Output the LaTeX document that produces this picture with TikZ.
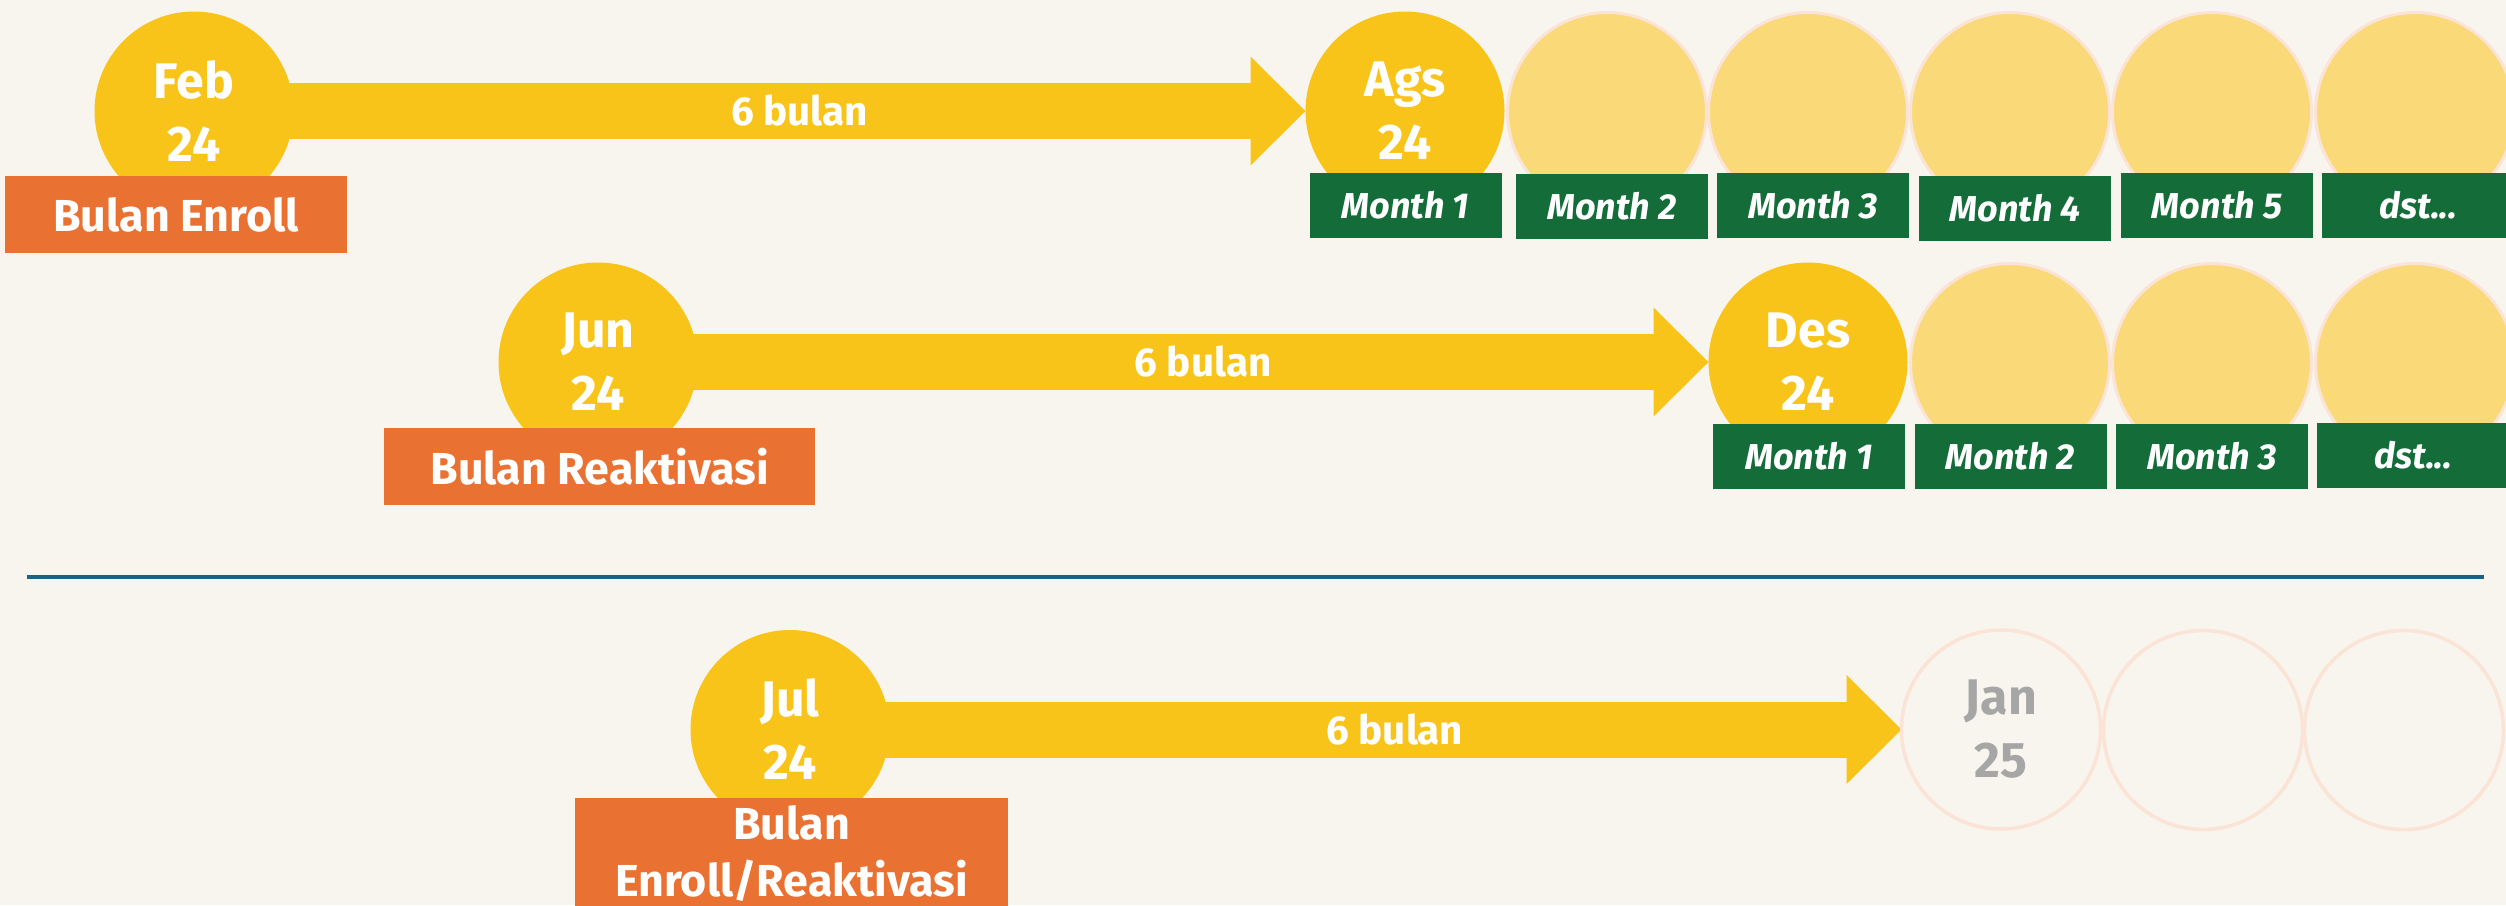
\documentclass[tikz,border=0pt]{standalone}
\usepackage{fontspec}
\setmainfont{Fira Sans}[Ligatures=NoCommon]
\usepackage{xcolor}
\usetikzlibrary{arrows.meta}

\definecolor{bgcream}{HTML}{F8F5EE}
\definecolor{sunyellow}{HTML}{F9C41A}
\definecolor{paleyellow}{HTML}{FAD978}
\definecolor{palepink}{HTML}{FBE3D6}
\definecolor{rustorange}{HTML}{E97132}
\definecolor{leafgreen}{HTML}{146C38}
\definecolor{lineblue}{HTML}{1B6185}
\definecolor{dimgray}{HTML}{A6A6A6}

\newcommand{\etc}{dst{.}{.}{.}}

\begin{document}
\begin{tikzpicture}[x=0.5pt, y=-0.5pt,
  monthdot/.style={circle, fill=sunyellow, minimum size=99.5pt, inner sep=0pt,
    text=white, align=center, font=\fontsize{25}{31.5}\selectfont\bfseries},
  faded/.style={circle, fill=paleyellow, draw=palepink, line width=1.5pt,
    minimum size=99.5pt, inner sep=0pt},
  ghost/.style={circle, draw=palepink, line width=1.75pt, minimum size=99.5pt,
    inner sep=0pt, text=dimgray, align=center,
    font=\fontsize{25}{31.5}\selectfont\bfseries},
  spanarrow/.style={draw=sunyellow, line width=28pt,
    -{Triangle[width=54.5pt, length=27.5pt, line width=0pt]}},
  spanlabel/.style={text=white, font=\fontsize{20.2}{24}\selectfont\bfseries},
  enrollbox/.style={fill=rustorange, text=white, align=center, inner sep=0pt,
    font=\fontsize{22.4}{28.5}\selectfont\bfseries},
  monthbox/.style={fill=leafgreen, text=white, minimum width=96pt,
    minimum height=32.5pt, inner sep=0pt,
    font=\fontsize{18}{20}\selectfont\bfseries\itshape}]

  % background and page size
  \fill[bgcream] (0,0) rectangle (2506,905);
  \useasboundingbox (0,0) rectangle (2506,905);

  % start and end months (named first, drawn over the arrows later)
  \path (194,111) coordinate (febpos) (1405,111) coordinate (agspos)
        (598,362) coordinate (junpos) (1808,362) coordinate (despos)
        (790,729.5) coordinate (julpos) (2001,729.5) coordinate (janpos);

  % the three 6 month arrows
  \draw[spanarrow] (febpos) -- ([xshift=-49.75pt]agspos);
  \draw[spanarrow] (junpos) -- ([xshift=-49.75pt]despos);
  \draw[spanarrow] (julpos) -- ([xshift=-49.75pt]janpos);

  % first row
  \node[monthdot] (feb) at (febpos) {Feb\\24};
  \node[monthdot] (ags) at (agspos) {Ags\\24};
  \foreach \x [count=\i] in {1607,1808,2010,2212,2415}
    \node[faded] (agsnext\i) at (\x,112) {};
  \path (feb.east) -- node[spanlabel] {6 bulan} (ags.west);
  \node[enrollbox, minimum width=171pt, minimum height=38.5pt] (enroll) at (176,214.5) {Bulan Enroll};
  \foreach \x/\y/\t [count=\i] in {1405.5/205.5/Month 1, 1612/206.5/Month 2,
      1813/205.5/Month 3, 2015/208.5/Month 4, 2217/205.5/Month 5, 2418/205.5/\etc}
    \node[monthbox] (toprow\i) at (\x,\y) {\t};

  % second row
  \node[monthdot] (jun) at (junpos) {Jun\\24};
  \node[monthdot] (des) at (despos) {Des\\24};
  \foreach \x [count=\i] in {2010,2212,2415}
    \node[faded] (desnext\i) at (\x,363) {};
  \path (jun.east) -- node[spanlabel] {6 bulan} (des.west);
  \node[enrollbox, minimum width=215.5pt, minimum height=38.5pt] (reakt) at (599.5,466.5) {Bulan Reaktivasi};
  \foreach \x/\y/\t [count=\i] in {1809/456.5/Month 1, 2010.5/456.5/Month 2,
      2212/456.5/Month 3, 2413/455.5/\etc}
    \node[monthbox] (midrow\i) at (\x,\y) {\t};

  % divider
  \coordinate (divleft) at (27,577);
  \coordinate (divright) at (2484,577);
  \draw[lineblue, line width=2pt] (divleft) -- (divright);

  % third row
  \node[monthdot] (jul) at (julpos) {Jul\\24};
  \node[ghost] (jan) at (janpos) {Jan\\25};
  \foreach \x [count=\i] in {2203,2404}
    \node[ghost] (jannext\i) at (\x,730) {};
  \path (jul.east) -- node[spanlabel] {6 bulan} (jan.west);
  \node[enrollbox, minimum width=216.5pt, minimum height=55pt] (both) at (791.5,853) {Bulan\\Enroll/Reaktivasi};
\end{tikzpicture}
\end{document}
